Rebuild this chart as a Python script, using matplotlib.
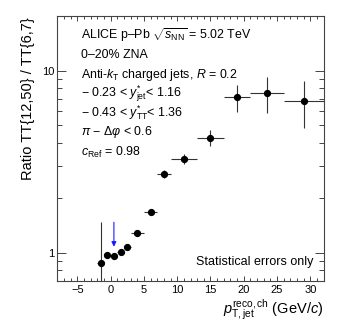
import matplotlib
matplotlib.use("Agg")
import matplotlib.pyplot as plt
import numpy as np
from matplotlib.ticker import MultipleLocator, LogLocator, NullFormatter, FixedLocator, FixedFormatter

plt.rcParams['font.family'] = ['Liberation Sans', 'DejaVu Sans']
plt.rcParams['mathtext.fontset'] = 'custom'
plt.rcParams['mathtext.rm'] = 'Liberation Sans'
plt.rcParams['mathtext.it'] = 'Liberation Sans:italic'
plt.rcParams['mathtext.bf'] = 'Liberation Sans:bold'

# data
pt = [-1.5, -0.5, 0.5, 1.5, 2.5, 4, 6, 8, 11, 15, 19, 23.5, 29]
pt_err = [0.5, 0.5, 0.5, 0.5, 0.5, 1, 1, 1, 2, 2, 2, 2.5, 3]
ratio = [0.875, 0.968, 0.963, 1.009, 1.071, 1.278, 1.667, 2.70, 3.27, 4.29, 7.14, 7.57, 6.79]
err_up = [1.48, 0.99, 0.985, 1.03, 1.09, 1.30, 1.70, 2.83, 3.50, 4.72, 8.35, 9.27, 8.71]
err_lo = [0.50, 0.95, 0.945, 0.99, 1.05, 1.26, 1.64, 2.57, 3.06, 3.86, 5.96, 5.88, 4.86]
arrow_x = 0.5
arrow_y = [1.47, 1.079]

W, H = 341, 324
fig = plt.figure(figsize=(W/100, H/100), dpi=100)
ax = fig.add_axes([57.3/W, 1-281/H, (323.7-57.3)/W, (281-15.7)/H])

r = np.array(ratio)
yerr = np.array([r - np.array(err_lo), np.array(err_up) - r])
ax.errorbar(pt, ratio, xerr=pt_err, yerr=yerr, fmt='o', color='black', ms=4.2,
            ecolor='#333333', elinewidth=0.8, capsize=0, zorder=3)

ax.annotate('', xy=(arrow_x, arrow_y[1]), xytext=(arrow_x, arrow_y[0]),
            arrowprops=dict(arrowstyle='-|>', color='#1a1aff', lw=0.8,
                            mutation_scale=7, shrinkA=0, shrinkB=0))

ax.set_yscale('log')
ax.set_xlim(-8, 32)
ax.set_ylim(0.7, 20)

ax.xaxis.set_major_locator(MultipleLocator(5))
ax.xaxis.set_minor_locator(MultipleLocator(1))
ax.yaxis.set_major_locator(FixedLocator([1, 10]))
ax.yaxis.set_major_formatter(FixedFormatter(['1', '10']))
ax.yaxis.set_minor_locator(LogLocator(base=10, subs=np.arange(2, 10)))
ax.yaxis.set_minor_formatter(NullFormatter())

ax.tick_params(axis='both', which='both', direction='in', top=True, right=True,
               labelsize=8, color='#444444', width=0.7)
ax.tick_params(axis='x', which='major', length=3.5, pad=3)
ax.tick_params(axis='x', which='minor', length=2)
ax.tick_params(axis='y', which='major', length=6.5, pad=2)
ax.tick_params(axis='y', which='minor', length=3.4)
for s in ax.spines.values():
    s.set_color('#444444')
    s.set_linewidth(0.8)

ax.set_ylabel('Ratio TT{12,50} / TT{6,7}', fontsize=10.5, loc='top')
ax.yaxis.set_label_coords(-0.085, 0.995)
ax.set_xlabel(r'$p_{\mathrm{T,jet}}^{\mathrm{reco,ch}}$ (GeV/$c$)', fontsize=10.5, loc='right')
ax.xaxis.set_label_coords(1.0, -0.065)

lines = [
    r'ALICE p–Pb $\sqrt{s_{\mathrm{NN}}}$ = 5.02 TeV',
    '0–20% ZNA',
    r'Anti-$k_{\mathrm{T}}$ charged jets, $R$ = 0.2',
    r'− 0.23 < $y^{*}_{\mathrm{jet}}$< 1.16',
    r'− 0.43 < $y^{*}_{\mathrm{TT}}$< 1.36',
    r'$\pi$ − $\Delta\varphi$ < 0.6',
    r'$c_{\mathrm{Ref}}$ = 0.98',
]
ys = [35, 55, 75, 94, 113, 132, 152]
for t, py in zip(lines, ys):
    fig.text(80.7/W, 1-py/H, t, fontsize=8.9, va='center', ha='left')

fig.text(313/W, 1-261.7/H, 'Statistical errors only', fontsize=9, va='center', ha='right')

fig.savefig('out.png', dpi=100)
